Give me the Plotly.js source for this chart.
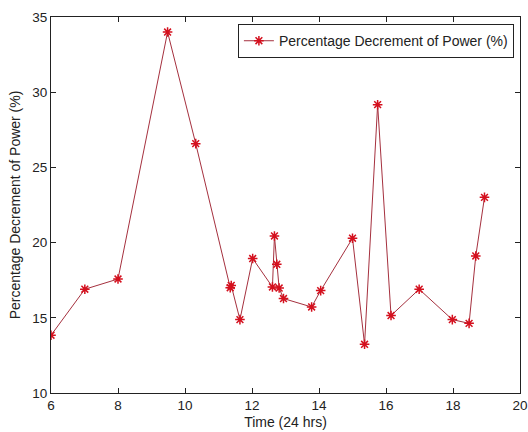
<!DOCTYPE html>
<html>
<head>
<meta charset="utf-8">
<script src="https://cdn.plot.ly/plotly-3.0.1.min.js"></script>
<style>html,body{margin:0;padding:0;background:#fff;}#chart{width:528px;height:432px;}</style>
</head>
<body>
<div id="chart"></div>
<script>
const timeHrs = [6, 7.01, 8, 9.48, 10.32, 11.35, 11.38, 11.64, 12.02, 12.61, 12.67, 12.74, 12.81, 12.94, 13.78, 14.05, 15.0, 15.36, 15.75, 16.15, 16.99, 17.98, 18.48, 18.68, 18.94];
const decrement = [13.84, 16.9, 17.58, 34.0, 26.58, 17.0, 17.15, 14.88, 18.94, 17.05, 20.44, 18.56, 16.98, 16.28, 15.72, 16.81, 20.29, 13.24, 29.17, 15.15, 16.9, 14.88, 14.63, 19.11, 23.01];
const seriesName = 'Percentage Decrement of Power (%)';
const xTicks = [6, 8, 10, 12, 14, 16, 18, 20];
const yTicks = [10, 15, 20, 25, 30, 35];

const fam = 'Liberation Sans, Arial, sans-serif';
const tickFont = {family: fam, size: 13.5, color: '#222'};
const titleFont = {family: fam, size: 14, color: '#222'};
const trace = {
  x: timeHrs, y: decrement, name: seriesName, type: 'scatter', mode: 'lines+markers',
  line: {color: '#a5303e', width: 1},
  marker: {symbol: 'asterisk-open', size: 8, color: '#d4101e', line: {color: '#d4101e', width: 1.5}},
  showlegend: true
};
const axisCommon = {
  showgrid: false, zeroline: false, showline: true, mirror: 'ticks',
  linecolor: '#222', linewidth: 1, ticks: 'inside', ticklen: 5, tickcolor: '#222',
  tickfont: tickFont
};
const layout = {
  width: 528, height: 432,
  margin: {l: 51, r: 8, t: 17, b: 39},
  paper_bgcolor: '#fff', plot_bgcolor: '#fff',
  font: titleFont,
  showlegend: true,
  legend: {x: 0.987, y: 0.981, xanchor: 'right', yanchor: 'top', bordercolor: '#222', borderwidth: 1, bgcolor: '#fff', font: titleFont},
  xaxis: Object.assign({}, axisCommon, {range: [6, 20], tickvals: xTicks, ticktext: xTicks.map(String), title: {text: 'Time (24 hrs)', font: titleFont, standoff: 4}}),
  yaxis: Object.assign({}, axisCommon, {range: [10, 35], tickvals: yTicks, ticktext: yTicks.map(String), title: {text: 'Percentage Decrement of Power (%)', font: titleFont, standoff: 8}})
};
Plotly.newPlot('chart', [trace], layout, {displayModeBar: false, staticPlot: true});
</script>
</body>
</html>
